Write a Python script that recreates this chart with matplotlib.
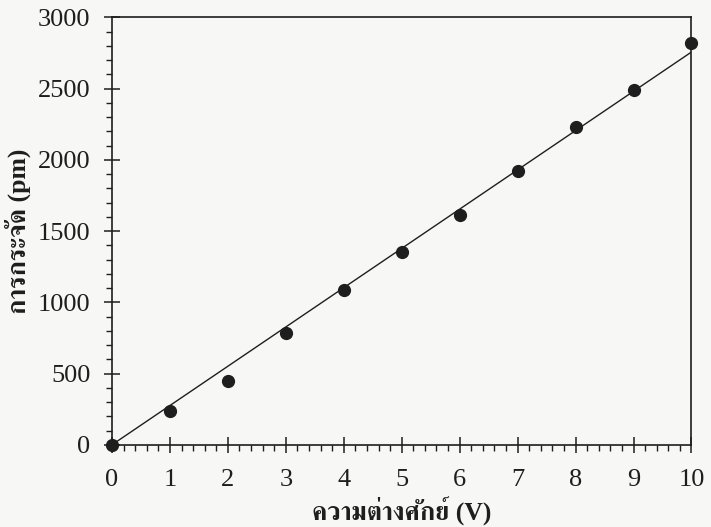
import numpy as np
import matplotlib
matplotlib.use("Agg")
import matplotlib.pyplot as plt
from matplotlib.ticker import MultipleLocator

plt.rcParams['font.family'] = ['Liberation Serif', 'FreeSerif']

# displacement vs. applied voltage
voltage = [0, 1, 2, 3, 4, 5, 6, 7, 8, 9, 10]
displacement = [0, 235, 445, 785, 1090, 1350, 1610, 1920, 2230, 2490, 2820]
x_label = "ความต่างศักย์ (V)"
y_label = "การกระจัด (pm)"

x = np.array(voltage, dtype=float)
y = np.array(displacement, dtype=float)
# least squares line forced through the origin
slope = (x * y).sum() / (x * x).sum()

ink = "#1e1e1e"
bg = "#f7f7f6"
fig = plt.figure(figsize=(7.11, 5.27), dpi=100, facecolor=bg)
ax = fig.add_axes([0.1575, 0.156, 0.815, 0.811])
ax.set_facecolor(bg)

ax.plot([0, 10], [0, slope * 10], color=ink, lw=1.0, zorder=2)
ax.plot(x, y, "o", color=ink, ms=8.5, clip_on=False, zorder=3)

ax.set_xlim(0, 10)
ax.set_ylim(0, 3000)
ax.xaxis.set_major_locator(MultipleLocator(1))
ax.xaxis.set_minor_locator(MultipleLocator(0.2))
ax.yaxis.set_major_locator(MultipleLocator(500))
ax.yaxis.set_minor_locator(MultipleLocator(100))

ax.tick_params(which="major", direction="inout", length=11, width=1.1,
               color=ink, labelcolor=ink, labelsize=19)
ax.tick_params(which="minor", direction="out", length=4, width=1.0, color=ink)
ax.tick_params(axis="x", which="major", pad=12)
ax.tick_params(axis="y", which="major", pad=10)

for sp in ax.spines.values():
    sp.set_color(ink)
    sp.set_linewidth(1.2)

ax.set_xlabel(x_label, fontsize=18.5, fontweight="bold", color=ink, labelpad=4)
ax.set_ylabel(y_label, fontsize=18.5, fontweight="bold", color=ink, labelpad=5)

fig.savefig("out.png", dpi=100, facecolor=fig.get_facecolor())
